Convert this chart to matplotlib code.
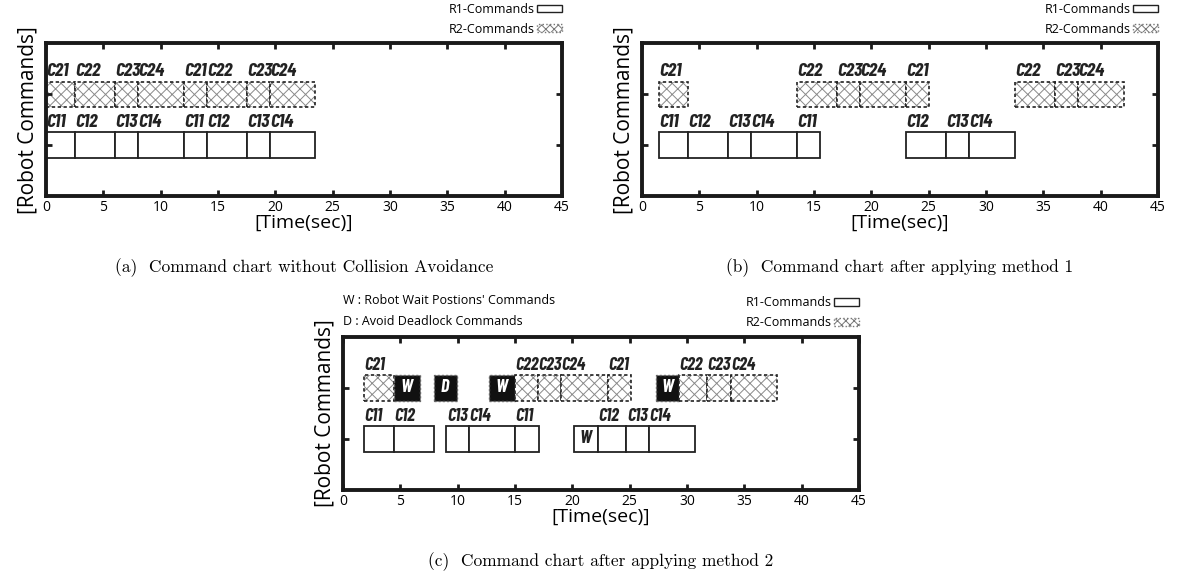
import matplotlib
matplotlib.use("Agg")
import matplotlib.pyplot as plt
from matplotlib.patches import Patch

# (a) without collision avoidance
a_r1_labels = ['C11', 'C12', 'C13', 'C14', 'C11', 'C12', 'C13', 'C14']
a_r1_start = [0, 2.5, 6, 8, 12, 14, 17.5, 19.5]
a_r1_end = [2.5, 6, 8, 12, 14, 17.5, 19.5, 23.5]
a_r2_labels = ['C21', 'C22', 'C23', 'C24', 'C21', 'C22', 'C23', 'C24']
a_r2_start = [0, 2.5, 6, 8, 12, 14, 17.5, 19.5]
a_r2_end = [2.5, 6, 8, 12, 14, 17.5, 19.5, 23.5]

# (b) method 1
b_r1_labels = ['C11', 'C12', 'C13', 'C14', 'C11', 'C12', 'C13', 'C14']
b_r1_start = [1.5, 4, 7.5, 9.5, 13.5, 23, 26.5, 28.5]
b_r1_end = [4, 7.5, 9.5, 13.5, 15.5, 26.5, 28.5, 32.5]
b_r2_labels = ['C21', 'C22', 'C23', 'C24', 'C21', 'C22', 'C23', 'C24']
b_r2_start = [1.5, 13.5, 17, 19, 23, 32.5, 36, 38]
b_r2_end = [4, 17, 19, 23, 25, 36, 38, 42]

# (c) method 2  (W = wait, D = avoid deadlock)
c_r1_labels = ['C11', 'C12', 'C13', 'C14', 'C11', 'W', 'C12', 'C13', 'C14']
c_r1_start = [1.8, 4.4, 9.0, 11.0, 15.0, 20.1, 22.2, 24.7, 26.7]
c_r1_end = [4.4, 7.9, 11.0, 15.0, 17.1, 22.2, 24.7, 26.7, 30.7]
c_r2_labels = ['C21', 'W', 'D', 'W', 'C22', 'C23', 'C24', 'C21', 'W', 'C22', 'C23', 'C24']
c_r2_start = [1.8, 4.4, 7.9, 12.7, 15.0, 17.0, 19.0, 23.1, 27.3, 29.3, 31.7, 33.8]
c_r2_end = [4.4, 6.7, 9.9, 15.0, 17.0, 19.0, 23.1, 25.1, 29.3, 31.7, 33.8, 37.8]

xticks = [0, 5, 10, 15, 20, 25, 30, 35, 40, 45]
captions = ['(a)  Command chart without Collision Avoidance',
            '(b)  Command chart after applying method 1',
            '(c)  Command chart after applying method 2']

SANS = ['Open Sans', 'DejaVu Sans']
NARROW = ['Barlow Condensed', 'Liberation Sans', 'DejaVu Sans']
SERIF = ['cmr10', 'DejaVu Serif']
BH = 0.5
plt.rcParams['hatch.linewidth'] = 0.7


def draw_row(ax, y, labels, start, end, robot, lsize):
    for lab, s, e in zip(labels, start, end):
        w = e - s
        special = lab in ('W', 'D')
        if robot == 1:
            ax.barh(y, w, left=s, height=BH, color='white', edgecolor='#222222', linewidth=1.3)
            if special:
                ax.text(s + w / 2, y, lab, ha='center', va='center', fontsize=13,
                        fontweight='bold', fontstyle='italic', family=NARROW, color='#222222')
        else:
            if special:
                ax.barh(y, w, left=s, height=BH, color='#111111', edgecolor='#666666',
                        linewidth=1.0, linestyle=(0, (1.5, 1.5)))
                ax.text(s + w / 2, y, lab, ha='center', va='center', fontsize=13,
                        fontweight='bold', fontstyle='italic', family=NARROW, color='white')
            else:
                ax.barh(y, w, left=s, height=BH, color='white', edgecolor='#8a8a8a',
                        hatch='xxx', linewidth=0)
                ax.barh(y, w, left=s, height=BH, color='none', edgecolor='#222222',
                        linewidth=1.2, linestyle=(0, (2, 1.5)))
        if not special:
            ax.text(s + 0.05, y + BH / 2 + 0.02, lab, ha='left', va='bottom', fontsize=lsize,
                    fontweight='bold', fontstyle='italic', family=NARROW, color='#222222')


def setup(ax, caption):
    ax.set_xlim(0, 45)
    ax.set_ylim(0, 3)
    ax.set_xticks(xticks)
    ax.set_yticks([1, 2])
    ax.set_yticklabels([])
    for sp in ax.spines.values():
        sp.set_linewidth(2.8)
        sp.set_color('#1a1a1a')
    ax.tick_params(axis='both', direction='in', top=True, right=True, length=4, width=2,
                   color='#1a1a1a')
    ax.tick_params(axis='x', labelsize=10, pad=3)
    for t in ax.get_xticklabels():
        t.set_family(SANS)
    ax.set_xlabel('[Time(sec)]', fontsize=14, family=SANS, labelpad=-1)
    ax.set_ylabel('[Robot Commands]', fontsize=15, family=SANS, labelpad=2)
    ax.legend(handles=[Patch(facecolor='white', edgecolor='#222222', linewidth=1.0),
                       Patch(facecolor='white', edgecolor='#777777', hatch='xxxx',
                             linewidth=1.0, linestyle=':')],
              labels=['R1-Commands', 'R2-Commands'], loc='lower right',
              bbox_to_anchor=(1.0, 1.05), frameon=False, markerfirst=False,
              handlelength=2.0, handleheight=0.55, handletextpad=0.2,
              labelspacing=0.55, borderaxespad=0, borderpad=0,
              prop={'family': SANS, 'size': 9})
    ax.text(0.5, -0.47, caption, transform=ax.transAxes, ha='center', va='center',
            fontsize=12.5, family=SERIF)


fig = plt.figure(figsize=(11.79, 5.77), dpi=100)
ax_a = fig.add_axes([0.039, 0.660, 0.4377, 0.265])
ax_b = fig.add_axes([0.5445, 0.660, 0.4377, 0.265])
ax_c = fig.add_axes([0.291, 0.151, 0.4377, 0.265])

draw_row(ax_a, 1, a_r1_labels, a_r1_start, a_r1_end, 1, 14)
draw_row(ax_a, 2, a_r2_labels, a_r2_start, a_r2_end, 2, 14)
draw_row(ax_b, 1, b_r1_labels, b_r1_start, b_r1_end, 1, 14)
draw_row(ax_b, 2, b_r2_labels, b_r2_start, b_r2_end, 2, 14)
draw_row(ax_c, 1, c_r1_labels, c_r1_start, c_r1_end, 1, 13)
draw_row(ax_c, 2, c_r2_labels, c_r2_start, c_r2_end, 2, 13)

for ax, cap in zip([ax_a, ax_b, ax_c], captions):
    setup(ax, cap)

ax_c.text(0.0, 1.24, "W : Robot Wait Postions' Commands", transform=ax_c.transAxes,
          ha='left', va='center', fontsize=9, family=SANS)
ax_c.text(0.0, 1.10, 'D : Avoid Deadlock Commands', transform=ax_c.transAxes,
          ha='left', va='center', fontsize=9, family=SANS)

fig.savefig('out.png', dpi=100)
